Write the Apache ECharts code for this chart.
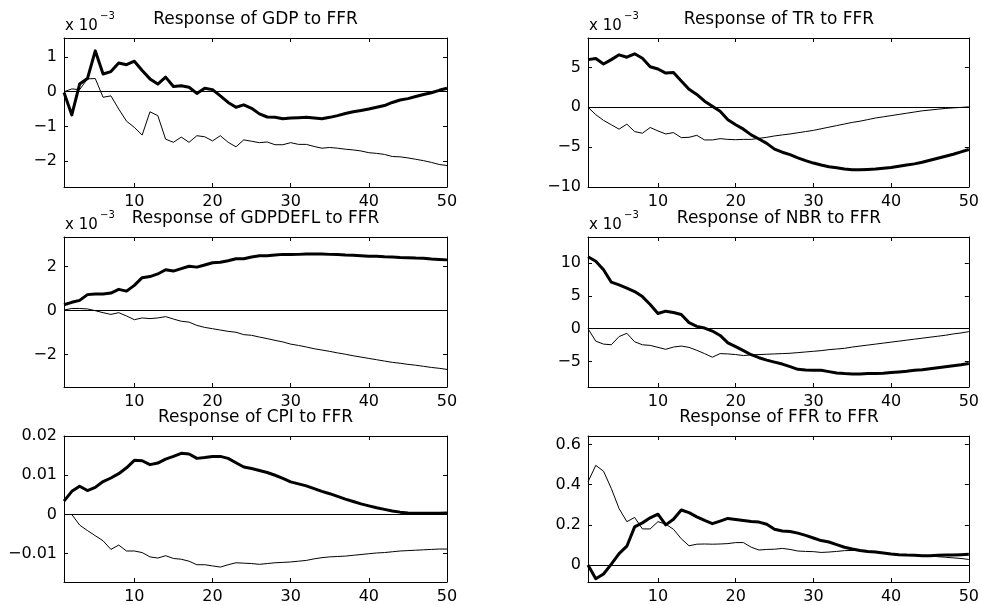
<!DOCTYPE html>
<html>
<head>
<meta charset="utf-8">
<script src="https://cdn.jsdelivr.net/npm/echarts@6/dist/echarts.min.js"></script>
<style>
html,body{margin:0;padding:0;background:#fff;}
#chart{width:982px;height:605px;}
</style>
</head>
<body>
<div id="chart"></div>
<script>
// ---------------- DATA ----------------
const periods = Array.from({length: 50}, (_, i) => i + 1);
const xTicks = [10, 20, 30, 40, 50];

const titles = ['Response of GDP to FFR', 'Response of TR to FFR', 'Response of GDPDEFL to FFR',
                'Response of NBR to FFR', 'Response of CPI to FFR', 'Response of FFR to FFR'];
const scaleNote = ['x 10', '\u22123'];

const gdpThick = [-0.02,-0.67,0.22,0.38,1.18,0.51,0.58,0.83,0.78,0.88,0.61,0.37,0.22,0.42,0.15,0.17,0.13,-0.05,0.1,0.06,-0.12,-0.31,-0.45,-0.38,-0.48,-0.64,-0.73,-0.74,-0.78,-0.76,-0.75,-0.74,-0.76,-0.78,-0.74,-0.69,-0.63,-0.58,-0.54,-0.5,-0.45,-0.4,-0.31,-0.24,-0.2,-0.14,-0.08,-0.03,0.04,0.1];
const gdpThin = [0,0.08,0.06,0.37,0.38,-0.16,-0.12,-0.5,-0.85,-1.03,-1.25,-0.58,-0.69,-1.37,-1.46,-1.31,-1.46,-1.27,-1.3,-1.42,-1.27,-1.46,-1.59,-1.39,-1.43,-1.47,-1.45,-1.53,-1.53,-1.47,-1.52,-1.52,-1.58,-1.63,-1.61,-1.63,-1.66,-1.68,-1.71,-1.76,-1.78,-1.81,-1.87,-1.88,-1.91,-1.95,-1.99,-2.04,-2.1,-2.13];
const gdpTicks = [-2, -1, 0, 1];

const trThick = [5.97,6.1,5.42,5.97,6.57,6.27,6.7,6.14,5.08,4.79,4.28,4.36,3.3,2.25,1.61,0.76,0.13,-0.51,-1.57,-2.2,-2.75,-3.47,-3.98,-4.53,-5.25,-5.64,-5.95,-6.35,-6.7,-7.0,-7.25,-7.45,-7.6,-7.75,-7.85,-7.85,-7.8,-7.75,-7.65,-7.55,-7.4,-7.25,-7.1,-6.9,-6.65,-6.4,-6.15,-5.9,-5.6,-5.3];
const trThin = [0,-0.93,-1.65,-2.2,-2.75,-2.12,-3.05,-3.26,-2.54,-2.97,-3.35,-3.18,-3.81,-3.77,-3.52,-4.1,-4.1,-3.94,-4.03,-4.07,-4.03,-4.03,-3.9,-3.77,-3.6,-3.47,-3.35,-3.2,-3.05,-2.9,-2.7,-2.5,-2.3,-2.1,-1.9,-1.75,-1.55,-1.35,-1.2,-1.05,-0.9,-0.75,-0.6,-0.45,-0.35,-0.25,-0.15,-0.08,-0.02,0.05];
const trTicks = [-10, -5, 0, 5];

const deflThick = [0.27,0.38,0.47,0.73,0.76,0.76,0.8,0.97,0.89,1.15,1.5,1.55,1.67,1.86,1.8,1.91,2.02,1.98,2.08,2.18,2.2,2.27,2.36,2.36,2.44,2.5,2.5,2.53,2.56,2.55,2.56,2.58,2.58,2.58,2.56,2.55,2.53,2.52,2.5,2.48,2.47,2.45,2.44,2.42,2.41,2.39,2.38,2.35,2.33,2.31];
const deflThin = [0.03,0.1,0.1,0.08,0.0,-0.09,-0.17,-0.09,-0.24,-0.41,-0.33,-0.36,-0.33,-0.27,-0.38,-0.48,-0.52,-0.67,-0.76,-0.82,-0.88,-0.94,-0.98,-1.09,-1.12,-1.2,-1.27,-1.35,-1.42,-1.52,-1.58,-1.65,-1.73,-1.79,-1.85,-1.92,-1.98,-2.05,-2.11,-2.17,-2.23,-2.29,-2.35,-2.39,-2.44,-2.48,-2.53,-2.58,-2.62,-2.67];
const deflTicks = [-2, 0, 2];

const nbrThick = [10.98,10.3,9.0,7.1,6.7,6.2,5.67,4.9,3.7,2.32,2.68,2.47,2.16,0.93,0.36,0.1,-0.36,-1.03,-2.16,-2.73,-3.35,-3.97,-4.43,-4.79,-5.1,-5.4,-5.8,-6.2,-6.3,-6.35,-6.35,-6.55,-6.75,-6.85,-6.9,-6.9,-6.85,-6.85,-6.8,-6.7,-6.6,-6.5,-6.35,-6.25,-6.1,-5.95,-5.8,-5.65,-5.5,-5.3];
const nbrThin = [0,-1.9,-2.35,-2.45,-1.2,-0.7,-2.0,-2.45,-2.55,-2.85,-3.15,-2.8,-2.65,-2.85,-3.3,-3.8,-4.35,-3.8,-3.85,-3.95,-4.1,-4.0,-3.95,-3.9,-3.85,-3.8,-3.75,-3.65,-3.55,-3.45,-3.35,-3.2,-3.1,-3.0,-2.8,-2.65,-2.5,-2.35,-2.2,-2.05,-1.9,-1.75,-1.6,-1.45,-1.3,-1.15,-1.0,-0.8,-0.65,-0.45];
const nbrTicks = [-5, 0, 5, 10];

const cpiThick = [0.0034,0.0059,0.0072,0.0061,0.0069,0.0084,0.0093,0.0104,0.0119,0.0138,0.0137,0.0127,0.0131,0.0141,0.0148,0.0156,0.0154,0.0143,0.0145,0.0148,0.0148,0.0143,0.0132,0.0121,0.0117,0.0112,0.0107,0.01,0.0092,0.0083,0.0078,0.0073,0.0066,0.0059,0.0053,0.0046,0.0039,0.0033,0.0027,0.0022,0.0017,0.0013,0.0009,0.0006,0.0004,0.0003,0.0003,0.0003,0.0003,0.0004];
const cpiThin = [0,0,-0.0027,-0.0041,-0.0054,-0.0067,-0.0089,-0.0078,-0.0093,-0.0093,-0.0097,-0.0108,-0.0111,-0.0105,-0.0112,-0.0114,-0.0119,-0.0128,-0.0128,-0.0131,-0.0134,-0.0128,-0.0123,-0.0124,-0.0125,-0.0127,-0.0125,-0.0123,-0.0122,-0.0121,-0.0119,-0.0117,-0.0113,-0.011,-0.0108,-0.0107,-0.0106,-0.0104,-0.0102,-0.01,-0.0098,-0.0097,-0.0095,-0.0093,-0.0092,-0.0091,-0.009,-0.0089,-0.0088,-0.0088];
const cpiTicks = [-0.01, 0, 0.01, 0.02];

const ffrThick = [0,-0.068,-0.044,0.005,0.057,0.094,0.19,0.21,0.235,0.253,0.2,0.228,0.274,0.261,0.24,0.222,0.206,0.219,0.232,0.227,0.222,0.217,0.214,0.203,0.178,0.17,0.167,0.159,0.148,0.135,0.122,0.115,0.102,0.089,0.08,0.073,0.068,0.065,0.06,0.055,0.052,0.05,0.049,0.047,0.047,0.049,0.05,0.05,0.052,0.054];
const ffrThin = [0.414,0.496,0.467,0.381,0.281,0.216,0.237,0.18,0.18,0.216,0.204,0.178,0.131,0.096,0.104,0.105,0.104,0.105,0.107,0.112,0.112,0.089,0.075,0.078,0.079,0.083,0.078,0.07,0.068,0.067,0.063,0.065,0.068,0.072,0.073,0.072,0.067,0.063,0.059,0.055,0.052,0.05,0.049,0.047,0.046,0.042,0.039,0.036,0.033,0.028];
const ffrTicks = [0, 0.2, 0.4, 0.6];

const yRanges = [[-2.75, 1.55], [-10, 8.68], [-3.47, 3.35], [-8.9, 14], [-0.0172, 0.02], [-0.084, 0.642]];

// ---------------- LAYOUT ----------------
const FONT = 'DejaVu Sans';
const colX = [64, 588];
const colW = [383, 382];
const rowY = [38, 237, 436];
const rowH = [149, 150, 150];
const titleY = [20, 219, 418];

const panelData = [
  {thick: gdpThick, thin: gdpThin, ticks: gdpTicks, exp: true},
  {thick: trThick, thin: trThin, ticks: trTicks, exp: true},
  {thick: deflThick, thin: deflThin, ticks: deflTicks, exp: true},
  {thick: nbrThick, thin: nbrThin, ticks: nbrTicks, exp: true},
  {thick: cpiThick, thin: cpiThin, ticks: cpiTicks, exp: false},
  {thick: ffrThick, thin: ffrThin, ticks: ffrTicks, exp: false}
];

const fmt = v => String(+v.toFixed(6)).replace('-', '\u2212');
const axisLine = {show: true, onZero: false, lineStyle: {color: '#000', width: 1}};

const grid = [], xAxis = [], yAxis = [], series = [], graphic = [];

panelData.forEach((p, i) => {
  const c = i % 2, r = Math.floor(i / 2);
  grid.push({left: colX[c], top: rowY[r], width: colW[c], height: rowH[r], containLabel: false});
  const [ymin, ymax] = yRanges[i];
  xAxis.push({gridIndex: i, type: 'value', min: 1, max: 50, position: 'bottom',
    axisLine, splitLine: {show: false},
    axisTick: {inside: true, length: 4, customValues: xTicks, lineStyle: {color: '#000'}},
    axisLabel: {customValues: xTicks, color: '#000', fontFamily: FONT, fontSize: 16, margin: 7}});
  xAxis.push({gridIndex: i, type: 'value', min: 1, max: 50, position: 'top',
    axisLine, splitLine: {show: false},
    axisTick: {inside: true, length: 4, customValues: xTicks, lineStyle: {color: '#000'}},
    axisLabel: {show: false}});
  yAxis.push({gridIndex: i, type: 'value', min: ymin, max: ymax, position: 'left',
    axisLine, splitLine: {show: false},
    axisTick: {inside: true, length: 4, customValues: p.ticks, lineStyle: {color: '#000'}},
    axisLabel: {customValues: p.ticks, formatter: fmt, color: '#000', fontFamily: FONT, fontSize: 16, margin: 7}});
  yAxis.push({gridIndex: i, type: 'value', min: ymin, max: ymax, position: 'right',
    axisLine, splitLine: {show: false},
    axisTick: {inside: true, length: 4, customValues: p.ticks, lineStyle: {color: '#000'}},
    axisLabel: {show: false}});

  series.push({type: 'line', xAxisIndex: 2 * i, yAxisIndex: 2 * i, symbol: 'none', silent: true,
    data: periods.map((t, k) => [t, p.thin[k]]),
    lineStyle: {color: '#000', width: 1}, z: 3,
    markLine: {silent: true, symbol: 'none', label: {show: false},
      lineStyle: {color: '#000', width: 1, type: 'solid'}, data: [{yAxis: 0}], animation: false}});
  series.push({type: 'line', xAxisIndex: 2 * i, yAxisIndex: 2 * i, symbol: 'none', silent: true,
    data: periods.map((t, k) => [t, p.thick[k]]),
    lineStyle: {color: '#000', width: 3, join: 'round'}, z: 4});

  graphic.push({type: 'text', x: colX[c] + colW[c] / 2, y: titleY[r], z: 10,
    style: {text: titles[i], fill: '#000', font: '17px "' + FONT + '"', align: 'center', verticalAlign: 'middle'}});
  if (p.exp) {
    graphic.push({type: 'text', x: colX[c] + 1, y: rowY[r] - 4, z: 9,
      style: {text: scaleNote[0], fill: '#000', font: '15px "' + FONT + '"', align: 'left', verticalAlign: 'bottom'}});
    graphic.push({type: 'text', x: colX[c] + 36, y: rowY[r] - 22, z: 9,
      style: {text: scaleNote[1], fill: '#000', font: '10px "' + FONT + '"', align: 'left', verticalAlign: 'middle'}});
  }
});

const chart = echarts.init(document.getElementById('chart'), null, {renderer: 'canvas'});
chart.setOption({
  animation: false,
  backgroundColor: '#fff',
  grid, xAxis, yAxis, series, graphic
});
</script>
</body>
</html>
